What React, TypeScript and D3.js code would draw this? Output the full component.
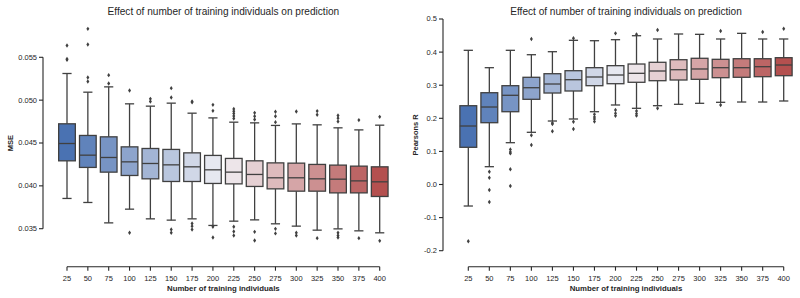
import React from "react";
import * as d3 from "d3";

const categories = ["25","50","75","100","125","150","175","200","225","250","275","300","325","350","375","400"];

const mseQ1 = [0.04292,0.04215,0.0416,0.04121,0.04082,0.04051,0.04051,0.04028,0.04023,0.03993,0.03965,0.03938,0.03938,0.03918,0.03918,0.03876];
const mseMed = [0.04494,0.04358,0.04331,0.0428,0.04261,0.04245,0.04222,0.04187,0.0416,0.04133,0.04094,0.04094,0.04082,0.04078,0.04058,0.04047];
const mseQ3 = [0.04724,0.04588,0.04572,0.04455,0.04436,0.04425,0.04385,0.04355,0.0432,0.04292,0.04268,0.04265,0.0425,0.04242,0.0423,0.04222];
const mseHi = [0.05311,0.05093,0.05155,0.04957,0.0493,0.04965,0.04848,0.04793,0.04743,0.04735,0.04705,0.04723,0.04712,0.04677,0.04653,0.04708];
const mseLo = [0.03853,0.03806,0.03568,0.03728,0.03615,0.036,0.03615,0.03538,0.03588,0.03603,0.03557,0.0353,0.03483,0.03498,0.03475,0.03452];
const mseFliers = [
  [0.05638,0.0548,0.0547],
  [0.05832,0.0565,0.05265,0.05218],
  [0.05292,0.05195],
  [0.05113,0.03452],
  [0.05015,0.04985],
  [0.0514,0.05031,0.03491,0.03452],
  [0.04985,0.04975,0.03561,0.0353,0.03491],
  [0.04945,0.04875,0.03522,0.03398],
  [0.04898,0.0487,0.04844,0.04815,0.04786,0.03522,0.03468,0.03421],
  [0.04852,0.04813,0.04775,0.03463,0.03363],
  [0.04864,0.04813,0.04743,0.03498,0.03445],
  [0.04868,0.03452,0.03421],
  [0.04872,0.04829,0.0339],
  [0.04821,0.0479,0.04751,0.03452,0.03421,0.03398],
  [0.04767,0.0339],
  [0.04805,0.03358],
];
const mseTicks = [0.035,0.04,0.045,0.05,0.055];

const rQ1 = [0.1124,0.1867,0.2199,0.2574,0.2764,0.2825,0.2985,0.3045,0.3088,0.3136,0.3157,0.3178,0.3227,0.3239,0.3257,0.3287];
const rMed = [0.1767,0.2341,0.2695,0.2924,0.3036,0.3166,0.3248,0.3308,0.3359,0.3429,0.3468,0.349,0.3529,0.3529,0.3559,0.361];
const rQ3 = [0.238,0.2773,0.2985,0.3239,0.3347,0.3438,0.3529,0.359,0.364,0.3692,0.377,0.3813,0.3782,0.38,0.38,0.3831];
const rHi = [0.4054,0.3529,0.4054,0.3921,0.4012,0.4356,0.4344,0.4375,0.4495,0.4396,0.4547,0.4537,0.4396,0.4567,0.4396,0.4396];
const rLo = [-0.065,0.0538,0.1263,0.1577,0.1918,0.1979,0.2199,0.2402,0.2302,0.2381,0.2423,0.2453,0.2483,0.2492,0.2492,0.2523];
const rFliers = [
  [-0.1716],
  [0.0387,0.0205,-0.0166,-0.0529],
  [0.106,0.098,0.094,0.046,-0.0045],
  [0.4396,0.1486,0.1193],
  [0.1858,0.1828,0.1607],
  [0.4417,0.1897,0.1677],
  [0.212,0.204,0.198,0.19],
  [0.4567,0.2251,0.215,0.2079],
  [0.4537,0.222,0.214,0.208],
  [0.4668,0.2302],
  [],
  [],
  [0.4637,0.2402],
  [],
  [0.4607],
  [0.4707],
];
const rTicks = [-0.2,-0.1,0,0.1,0.2,0.3,0.4,0.5];

const titleText = "Effect of number of training individuals on prediction";
const xLabel = "Number of training individuals";

const FONT = "'Liberation Sans', Arial, sans-serif";
const INK = "#262626";
const LINE = "#404040";

const color = d3.scaleLinear<string>()
  .domain([0, 7.5, 15])
  .range(["#4a72b2", "#f1f0f4", "#b4504f"])
  .interpolate(d3.interpolateRgb);

type PanelProps = {
  xRange: [number, number];
  yDomain: [number, number];
  yRange: [number, number];
  axisX: number;
  q1: number[]; med: number[]; q3: number[]; hi: number[]; lo: number[];
  fliers: number[][];
  ticks: number[];
  tickFmt: (v: number) => string;
  yLabel: string;
  yLabelX: number;
};

function Panel(p: PanelProps) {
  const x = d3.scalePoint<string>().domain(categories).range(p.xRange);
  const y = d3.scaleLinear().domain(p.yDomain).range(p.yRange);
  const bw = x.step() * 0.8;
  const cap = bw * 0.55;
  const xAxisY = 266.7;
  const centerX = (p.xRange[0] + p.xRange[1]) / 2;
  const yTop = y(p.ticks[p.ticks.length - 1]);
  const yBot = y(p.ticks[0]);
  const diamond = (cx: number, cy: number) =>
    `M${cx},${cy - 2.2}L${cx + 1.5},${cy}L${cx},${cy + 2.2}L${cx - 1.5},${cy}Z`;
  return (
    <g>
      <text x={centerX} y={14.8} textAnchor="middle" fontSize={10.1} fill={INK} fontFamily={FONT}>{titleText}</text>
      {/* y axis */}
      <line x1={p.axisX} x2={p.axisX} y1={yTop} y2={yBot} stroke={INK} strokeWidth={1.1} />
      {p.ticks.map((t) => (
        <g key={t}>
          <line x1={p.axisX - 4} x2={p.axisX} y1={y(t)} y2={y(t)} stroke={INK} strokeWidth={1.1} />
          <text x={p.axisX - 6} y={y(t)} dy="0.33em" textAnchor="end" fontSize={7.5} fill={INK} fontFamily={FONT}>{p.tickFmt(t)}</text>
        </g>
      ))}
      <text transform={`translate(${p.yLabelX},${(yTop + yBot) / 2}) rotate(-90)`} textAnchor="middle" fontSize={7.5} fontWeight="bold" fill={INK} fontFamily={FONT}>{p.yLabel}</text>
      {/* x axis */}
      <line x1={p.xRange[0]} x2={p.xRange[1]} y1={xAxisY} y2={xAxisY} stroke={INK} strokeWidth={1.1} />
      {categories.map((c) => (
        <g key={c}>
          <line x1={x(c)!} x2={x(c)!} y1={xAxisY} y2={xAxisY + 4} stroke={INK} strokeWidth={1.1} />
          <text x={x(c)!} y={xAxisY + 14} textAnchor="middle" fontSize={7.5} fill={INK} fontFamily={FONT}>{c}</text>
        </g>
      ))}
      <text x={centerX} y={xAxisY + 24} textAnchor="middle" fontSize={7.8} fontWeight="bold" fill={INK} fontFamily={FONT}>{xLabel}</text>
      {/* boxes */}
      {categories.map((c, i) => {
        const cx = x(c)!;
        return (
          <g key={c}>
            <line x1={cx} x2={cx} y1={y(p.hi[i])} y2={y(p.q3[i])} stroke={LINE} strokeWidth={1.3} />
            <line x1={cx} x2={cx} y1={y(p.q1[i])} y2={y(p.lo[i])} stroke={LINE} strokeWidth={1.3} />
            <line x1={cx - cap / 2} x2={cx + cap / 2} y1={y(p.hi[i])} y2={y(p.hi[i])} stroke={LINE} strokeWidth={1.3} />
            <line x1={cx - cap / 2} x2={cx + cap / 2} y1={y(p.lo[i])} y2={y(p.lo[i])} stroke={LINE} strokeWidth={1.3} />
            <rect x={cx - bw / 2} y={y(p.q3[i])} width={bw} height={y(p.q1[i]) - y(p.q3[i])} fill={color(i)} stroke={LINE} strokeWidth={1.3} />
            <line x1={cx - bw / 2} x2={cx + bw / 2} y1={y(p.med[i])} y2={y(p.med[i])} stroke={LINE} strokeWidth={1.3} />
            {p.fliers[i].map((f, j) => (
              <path key={j} d={diamond(cx, y(f))} fill={LINE} />
            ))}
          </g>
        );
      })}
    </g>
  );
}

export default function App() {
  return (
    <svg width={800} height={298} style={{ position: "absolute", left: 0, top: 0, background: "#fff" }}>
      <rect width={800} height={298} fill="#fff" />
      <Panel
        xRange={[67, 379.7]}
        yDomain={[0.035, 0.055]}
        yRange={[228.7, 57.3]}
        axisX={43}
        q1={mseQ1} med={mseMed} q3={mseQ3} hi={mseHi} lo={mseLo}
        fliers={mseFliers}
        ticks={mseTicks}
        tickFmt={d3.format(".3f")}
        yLabel="MSE"
        yLabelX={12.5}
      />
      <Panel
        xRange={[468.3, 783.7]}
        yDomain={[-0.2, 0.5]}
        yRange={[250.7, 19]}
        axisX={443}
        q1={rQ1} med={rMed} q3={rQ3} hi={rHi} lo={rLo}
        fliers={rFliers}
        ticks={rTicks}
        tickFmt={(v) => d3.format(".1f")(v).replace("−", "-")}
        yLabel="Pearsons R"
        yLabelX={417.5}
      />
    </svg>
  );
}
